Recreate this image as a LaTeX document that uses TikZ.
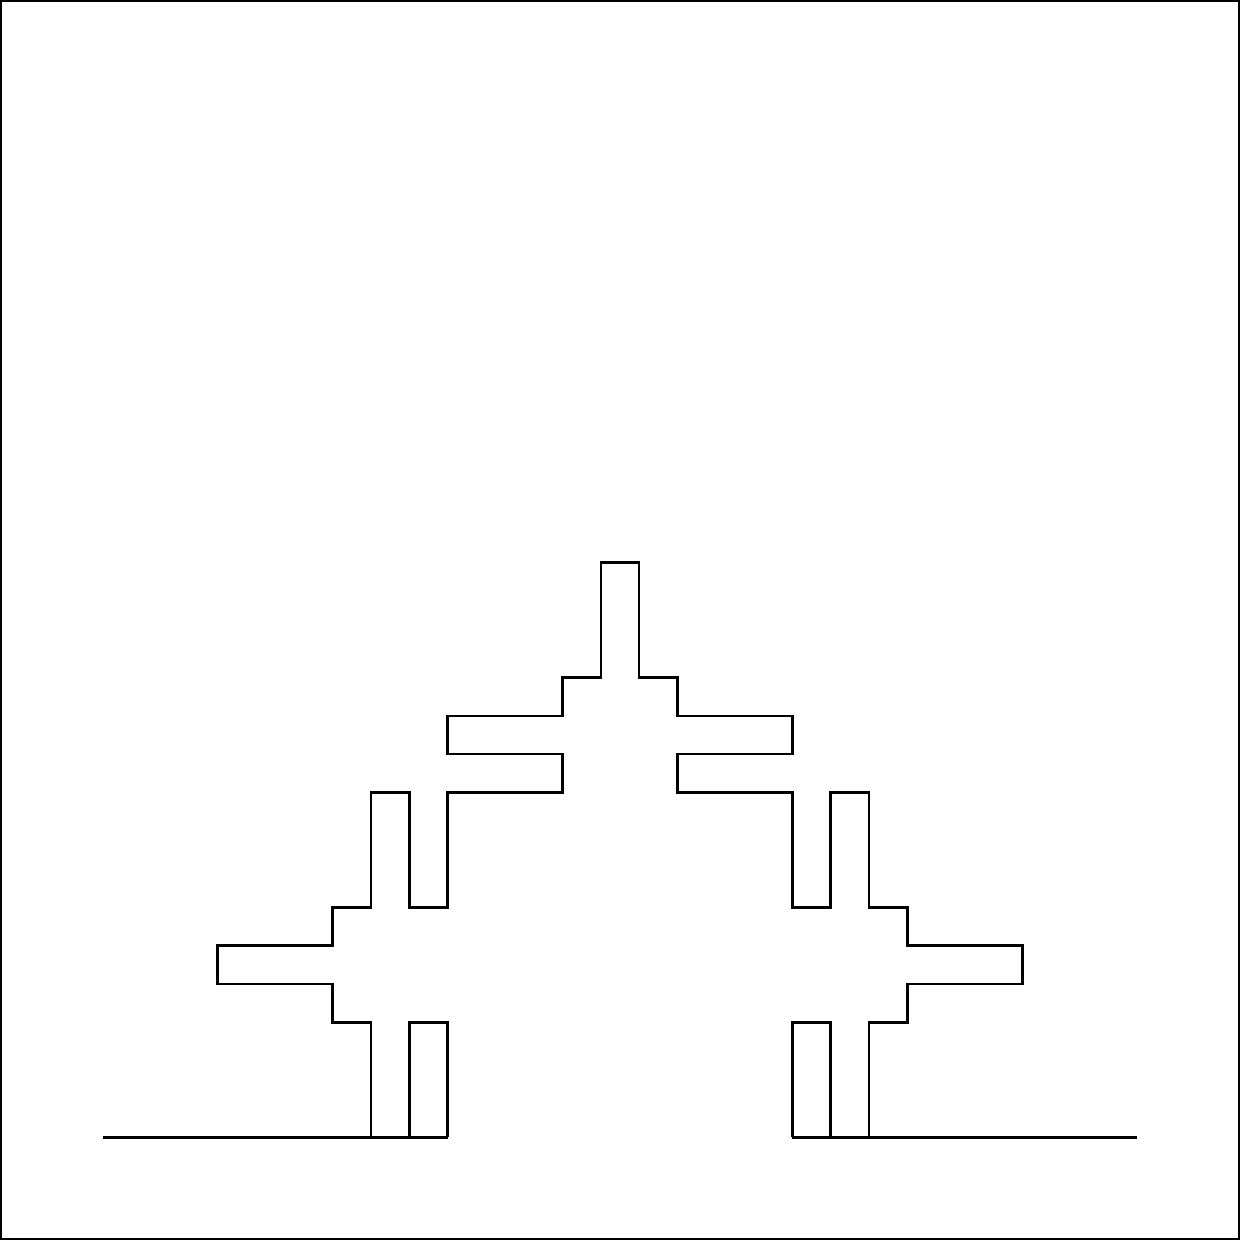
\documentclass[tikz,border=0pt]{standalone}
\begin{document}
\begin{tikzpicture}[x=0.5cm,y=0.5cm,curve/.style={line width=0.95pt,line join=miter,line cap=butt}]
\useasboundingbox (-2.68,-2.68) rectangle (29.68,29.68);
\draw[line width=0.6pt] ([shift={(0.3pt,0.3pt)}]-2.68,-2.68) rectangle ([shift={(-0.3pt,-0.3pt)}]29.68,29.68);
% base line
\draw[curve] (0,0) -- (9,0);
\draw[curve] (18,0) -- (27,0);
% left small cap
\draw[curve] (8,0) -- (8,3) -- (9,3) -- (9,0);
% right small cap
\draw[curve] (18,0) -- (18,3) -- (19,3) -- (19,0);
% main path
\draw[curve] (7,0) -- (7,3) -- (6,3) -- (6,4) -- (3,4) -- (3,5) -- (6,5) -- (6,6) -- (7,6) -- (7,9) -- (8,9) -- (8,6) -- (9,6) -- (9,9) -- (12,9) -- (12,10) -- (9,10) -- (9,11) -- (12,11) -- (12,12) -- (13,12) -- (13,15) -- (14,15) -- (14,12) -- (15,12) -- (15,11) -- (18,11) -- (18,10) -- (15,10) -- (15,9) -- (18,9) -- (18,6) -- (19,6) -- (19,9) -- (20,9) -- (20,6) -- (21,6) -- (21,5) -- (24,5) -- (24,4) -- (21,4) -- (21,3) -- (20,3) -- (20,0);
\end{tikzpicture}
\end{document}
